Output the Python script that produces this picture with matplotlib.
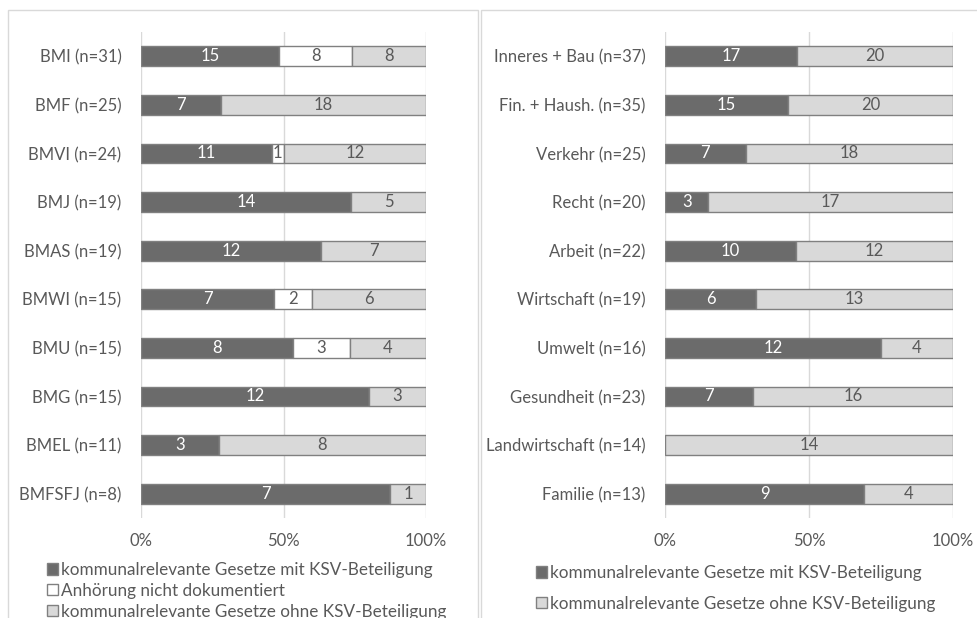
import matplotlib.pyplot as plt
from matplotlib.patches import Rectangle, Patch
import numpy as np

plt.rcParams['font.family'] = ['Lato', 'DejaVu Sans']

# linke Grafik: Ministerien
ministerien = ["BMI (n=31)", "BMF (n=25)", "BMVI (n=24)", "BMJ (n=19)", "BMAS (n=19)",
               "BMWI (n=15)", "BMU (n=15)", "BMG (n=15)", "BMEL (n=11)", "BMFSFJ (n=8)"]
min_mit = [15, 7, 11, 14, 12, 7, 8, 12, 3, 7]
min_anh = [8, 0, 1, 0, 0, 2, 3, 0, 0, 0]
min_ohne = [8, 18, 12, 5, 7, 6, 4, 3, 8, 1]

# rechte Grafik: Ausschuesse
ausschuesse = ["Inneres + Bau (n=37)", "Fin. + Haush. (n=35)", "Verkehr (n=25)", "Recht (n=20)",
               "Arbeit (n=22)", "Wirtschaft (n=19)", "Umwelt (n=16)", "Gesundheit (n=23)",
               "Landwirtschaft (n=14)", "Familie (n=13)"]
aus_mit = [17, 15, 7, 3, 10, 6, 12, 7, 0, 9]
aus_ohne = [20, 20, 18, 17, 12, 13, 4, 16, 14, 4]

lbl_mit = "kommunalrelevante Gesetze mit KSV-Beteiligung"
lbl_anh = "Anhörung nicht dokumentiert"
lbl_ohne = "kommunalrelevante Gesetze ohne KSV-Beteiligung"

DUNKEL = "#6b6b6b"
HELL = "#d9d9d9"
WEISS = "#ffffff"
KANTE = "#808080"
TEXT = "#595959"
FS = 12
FS_LEG = 12.3

fig = plt.figure(figsize=(9.77, 6.18), dpi=100)

# Rahmen der beiden Diagrammflaechen
fig.patches.append(Rectangle((8/977, -0.05), 470/977, 1 - 10/618 + 0.05, transform=fig.transFigure,
                             fill=False, edgecolor="#d9d9d9", linewidth=1))
fig.patches.append(Rectangle((481/977, -0.05), 0.6, 1 - 10/618 + 0.05, transform=fig.transFigure,
                             fill=False, edgecolor="#d9d9d9", linewidth=1))


def balken(ax, namen, serien, farben):
    n = len(namen)
    y = np.arange(n)
    tot = np.sum(serien, axis=0).astype(float)
    links = np.zeros(n)
    for werte, farbe in zip(serien, farben):
        werte = np.array(werte, dtype=float)
        anteil = werte / tot * 100
        ax.barh(y, anteil, left=links, height=0.41, color=farbe, edgecolor=KANTE,
                linewidth=1, zorder=3)
        for i in range(n):
            if werte[i] > 0:
                ax.text(links[i] + anteil[i] / 2, y[i], "%d" % werte[i], ha="center", va="center",
                        fontsize=FS, color="white" if farbe == DUNKEL else TEXT, zorder=4)
        links = links + anteil
    ax.set_yticks(y)
    ax.set_yticklabels(namen, fontsize=FS, color=TEXT)
    ax.set_ylim(n - 0.5, -0.5)
    ax.set_xlim(0, 100)
    ax.set_xticks([0, 50, 100])
    ax.set_xticklabels(["0%", "50%", "100%"], fontsize=FS, color=TEXT)
    ax.tick_params(length=0, axis="y", pad=14)
    ax.tick_params(length=0, axis="x", pad=11)
    for s in ax.spines.values():
        s.set_visible(False)
    ax.grid(axis="x", color="#d9d9d9", linewidth=1, zorder=0)


ax1 = fig.add_axes([141/977, 1 - 518/618, 285/977, 486/618])
balken(ax1, ministerien, [min_mit, min_anh, min_ohne], [DUNKEL, WEISS, HELL])

ax2 = fig.add_axes([665/977, 1 - 518/618, 288/977, 486/618])
balken(ax2, ausschuesse, [aus_mit, aus_ohne], [DUNKEL, HELL])

h1 = [Patch(facecolor=DUNKEL, edgecolor=KANTE), Patch(facecolor=WEISS, edgecolor=KANTE),
      Patch(facecolor=HELL, edgecolor=KANTE)]
fig.legend(h1, [lbl_mit, lbl_anh, lbl_ohne], loc="upper left", bbox_to_anchor=(47/977, 1 - 562/618),
           frameon=False, fontsize=FS_LEG, labelcolor=TEXT, handlelength=0.65, handleheight=0.65,
           handletextpad=0.15, labelspacing=0.28, borderaxespad=0, borderpad=0)

h2 = [Patch(facecolor=DUNKEL, edgecolor=KANTE), Patch(facecolor=HELL, edgecolor=KANTE)]
fig.legend(h2, [lbl_mit, lbl_ohne], loc="upper left", bbox_to_anchor=(536/977, 1 - 565/618),
           frameon=False, fontsize=FS_LEG, labelcolor=TEXT, handlelength=0.65, handleheight=0.65,
           handletextpad=0.15, labelspacing=0.85, borderaxespad=0, borderpad=0)

fig.savefig("out.png", dpi=100)
